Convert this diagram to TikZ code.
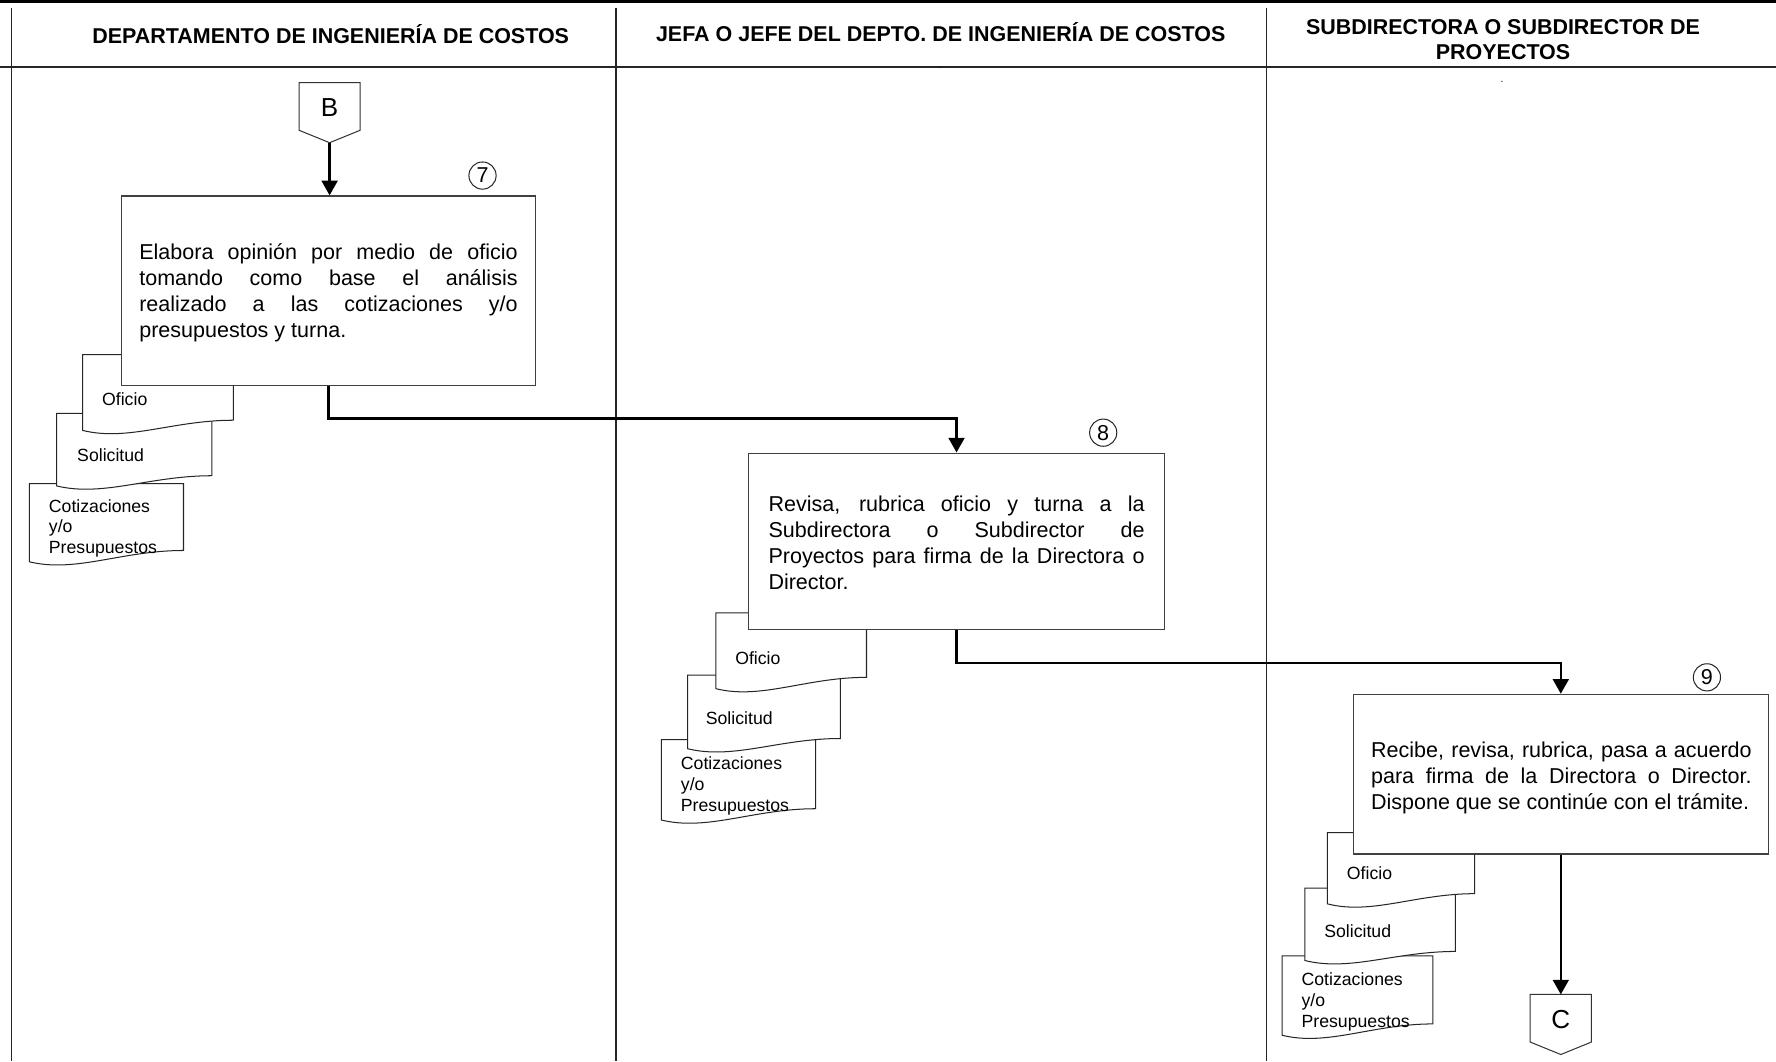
\documentclass[tikz,border=0pt]{standalone}
\usepackage{fontspec}
\setmainfont{Liberation Sans}
\usetikzlibrary{arrows.meta,calc}
\tikzset{
  frameline/.style={line width=1.3pt, black!85},
  procbox/.style={draw=black!75, line width=1pt, fill=white, inner sep=0pt},
  proctext/.style={inner sep=0pt, align=justify, font=\fontsize{19}{23}\selectfont},
  hdr/.style={inner sep=0pt, anchor=base, font=\fontsize{18.95}{22}\selectfont\bfseries},
  docst/.style={draw=black!85, line width=0.9pt, fill=white},
  doclab/.style={inner sep=0pt, anchor=west, align=left, font=\fontsize{15.6}{18.5}\selectfont},
  numc/.style={draw=black!85, line width=0.9pt, circle, minimum size=24pt, inner sep=0pt,
    font=\fontsize{19}{20}\selectfont},
  offp/.style={draw=black!80, line width=0.9pt, fill=white},
  offlab/.style={inner sep=0pt, font=\fontsize{23}{24}\selectfont},
  conn/.style={line width=2.2pt, -{Triangle[length=13pt,width=14pt]}}
}
% document symbol: xL yT xR yRb yLb
\newcommand\docsh[5]{%
  \pgfmathsetmacro\dW{#3-#1}%
  \filldraw[docst] (#1,#5) -- (#1,#2) -- (#3,#2) -- (#3,#4)
    .. controls ({#1+0.6*\dW},#4) and ({#1+0.3*\dW},{#5+10}) .. (#1,#5) -- cycle;}
% off-page connector: name cx ytop label
\newcommand\offpage[4]{%
  \filldraw[offp] ({#2-27},#3) -- ({#2+27},#3) -- ({#2+27},{#3+42}) -- (#2,{#3+53})
    -- ({#2-27},{#3+42}) -- cycle;
  \node[offlab] (#1) at (#2,{#3+22}) {#4};
  \coordinate (#1-tip) at (#2,{#3+53});
  \coordinate (#1-top) at (#2,#3);}
\begin{document}
\begin{tikzpicture}[x=1pt,y=-1pt]
\useasboundingbox (0,0) rectangle (1568,937);
% frame
\draw[line width=3pt] (0,1.5) -- (1568,1.5);
\draw[line width=2pt, black!85] (0,59) -- (1568,59);
\draw[frameline] (10,7) -- (10,937);
\draw[frameline] (544,7) -- (544,937);
\draw[frameline] (1118,7) -- (1118,937);
% headers
\node[hdr] (h1) at (292,38.7) {DEPARTAMENTO DE INGENIERÍA DE COSTOS};
\node[hdr] (h2) at (830.5,36.7) {JEFA O JEFE DEL DEPTO. DE INGENIERÍA DE COSTOS};
\node[hdr] (h3a) at (1327,30.2) {SUBDIRECTORA O SUBDIRECTOR DE};
\node[hdr] (h3b) at (1327,52.2) {PROYECTOS};
\node[inner sep=0pt, font=\fontsize{9}{9}\selectfont] (dot1) at (1326,72) {.};
\node[inner sep=0pt, font=\fontsize{6}{6}\selectfont] (dot2) at (830,60) {.};

% ---- step 7
\offpage{B}{291}{73}{B}
\docsh{26}{427}{162}{486}{496}
\docsh{50}{365}{187}{420}{429}
\docsh{73}{313}{206}{371}{380}
\node[doclab] (c7) at (43,466.5) {Cotizaciones\\y/o\\Presupuestos};
\node[doclab] (s7) at (68,402) {Solicitud};
\node[doclab] (o7) at (90,352) {Oficio};
\node[procbox, minimum width=366pt, minimum height=167pt] (p7) at (290,256.5) {};
\node[proctext, text width=334pt] (t7) at ($(p7.center)+(0,2)$)
  {Elabora opinión por medio de oficio\linebreak tomando como base el análisis\linebreak realizado a las cotizaciones y/o\linebreak presupuestos y turna.};
\node[numc] (n7) at (426,155) {7};

% ---- step 8
\docsh{584}{653}{720}{714}{724}
\docsh{607}{596}{742}{652}{661}
\docsh{632}{541}{765}{598}{608}
\node[doclab] (c8) at (601,693.5) {Cotizaciones\\y/o\\Presupuestos};
\node[doclab] (s8) at (623,634) {Solicitud};
\node[doclab] (o8) at (649,581) {Oficio};
\node[procbox, minimum width=367pt, minimum height=156pt] (p8) at (844.5,478) {};
\node[proctext, text width=332pt] (t8) at ($(p8.center)+(0,1)$)
  {Revisa, rubrica oficio y turna a la\linebreak Subdirectora o Subdirector de\linebreak Proyectos para firma de la Directora o\linebreak Director.};
\node[numc] (n8) at (974,382) {8};

% ---- step 9
\docsh{1132}{844}{1265}{904}{914}
\docsh{1152}{784}{1285}{840}{848}
\docsh{1172}{735}{1302}{789}{798}
\node[doclab] (c9) at (1149,884.5) {Cotizaciones\\y/o\\Presupuestos};
\node[doclab] (s9) at (1169,822) {Solicitud};
\node[doclab] (o9) at (1189,771) {Oficio};
\node[procbox, minimum width=366pt, minimum height=141pt] (p9) at (1378,683.5) {};
\node[proctext, text width=336pt] (t9) at ($(p9.center)+(0.5,3)$)
  {Recibe, revisa, rubrica, pasa a acuerdo\linebreak para firma de la Directora o Director.\linebreak Dispone que se continúe con el trámite.};
\node[numc] (n9) at (1507,598) {9};
\offpage{C}{1378}{878}{C}

% ---- connectors
\draw[conn] (B-tip) -- (B-tip |- p7.north);
\draw[conn] (p7.south) -- ++(0,29) -| (p8.north);
\draw[conn] (p8.south) -- ++(0,29) -| (p9.north);
\draw[conn] (p9.south) -- (C-top);
\end{tikzpicture}
\end{document}
